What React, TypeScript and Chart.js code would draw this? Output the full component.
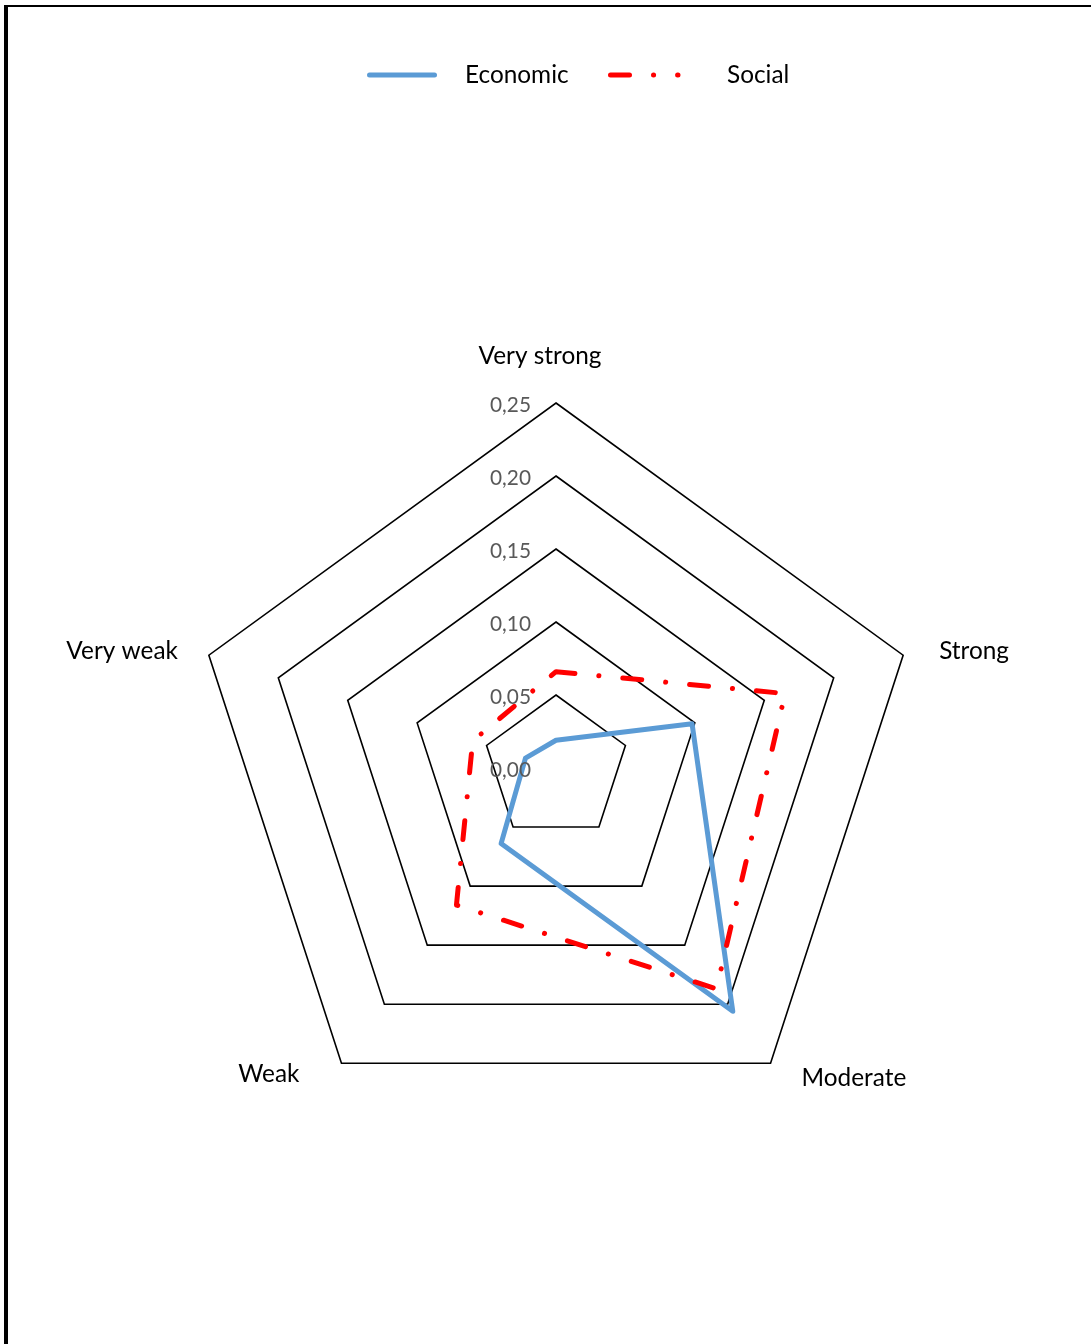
import { useEffect, useRef } from "react";
import { Chart, registerables } from "chart.js";

Chart.register(...registerables);

// ---- data ----
const categories = ["Very strong", "Strong", "Moderate", "Weak", "Very weak"];
const economicValues = [0.019, 0.098, 0.206, 0.064, 0.022];
const socialValues = [0.066, 0.165, 0.187, 0.116, 0.06];
const tickValues = [0, 0.05, 0.1, 0.15, 0.2, 0.25];
const seriesNames = ["Economic", "Social"];

const formatTick = (v: number) => v.toFixed(2).replace(".", ",");

const FONT_FAMILY = "Lato, 'Open Sans', sans-serif";
const BLUE = "#5B9BD5";
const RED = "#FF0000";
const RED_DASH = [19, 24, 0.1, 24];

// font size chosen so that a sample string reaches a target width
function fitSize(ctx: CanvasRenderingContext2D, sample: string, target: number) {
  ctx.font = `100px ${FONT_FAMILY}`;
  const w = ctx.measureText(sample).width;
  return (100 * target) / w;
}

const decorPlugin = {
  id: "decor",
  afterDraw(chart: any) {
    const ctx: CanvasRenderingContext2D = chart.ctx;
    const scale = chart.scales.r;
    ctx.save();

    // frame
    ctx.fillStyle = "#000";
    ctx.fillRect(4, 5, 4, chart.height - 5);
    ctx.fillRect(4, 5, chart.width - 4, 2);

    const labelSize = fitSize(ctx, "Very strong", 123);
    const tickSize = fitSize(ctx, "0,25", 41);

    // tick labels
    ctx.font = `${tickSize}px ${FONT_FAMILY}`;
    ctx.fillStyle = "#595959";
    ctx.textAlign = "right";
    ctx.textBaseline = "alphabetic";
    tickValues.forEach((v) => {
      const y = scale.yCenter - scale.getDistanceFromCenterForValue(v);
      ctx.fillText(formatTick(v), scale.xCenter - 25, y + 9);
    });

    // point labels
    ctx.font = `${labelSize}px ${FONT_FAMILY}`;
    ctx.fillStyle = "#000";
    const place: [CanvasTextAlign, number, number][] = [
      ["center", -16, -39],
      ["left", 36, 4],
      ["left", 31, 23],
      ["right", -42, 19],
      ["right", -31, 4],
    ];
    categories.forEach((c, i) => {
      const p = scale.getPointPosition(i, scale.drawingArea);
      const [align, dx, dy] = place[i];
      ctx.textAlign = align;
      ctx.fillText(c, p.x + dx, p.y + dy);
    });

    // legend
    const items = [
      { name: seriesNames[0], color: BLUE, dash: [] as number[], x0: 369.5, x1: 434.5, tx: 465 },
      { name: seriesNames[1], color: RED, dash: RED_DASH, x0: 610.5, x1: 678, tx: 727 },
    ];
    items.forEach((it) => {
      ctx.beginPath();
      ctx.setLineDash(it.dash);
      ctx.lineCap = "round";
      ctx.lineWidth = 5;
      ctx.strokeStyle = it.color;
      ctx.moveTo(it.x0, 75);
      ctx.lineTo(it.x1, 75);
      ctx.stroke();
      ctx.setLineDash([]);
      ctx.textAlign = "left";
      ctx.fillStyle = "#000";
      ctx.fillText(it.name, it.tx, 83);
    });

    ctx.restore();
  },
};

export default function App() {
  const ref = useRef<HTMLCanvasElement | null>(null);

  useEffect(() => {
    if (!ref.current) return;
    const chart = new Chart(ref.current, {
      type: "radar",
      data: {
        labels: categories,
        datasets: [
          {
            label: seriesNames[0],
            data: economicValues,
            borderColor: BLUE,
            backgroundColor: "transparent",
            borderWidth: 5,
            borderJoinStyle: "round",
            pointRadius: 0,
            pointHoverRadius: 0,
            fill: false,
            tension: 0,
            order: 1,
          },
          {
            label: seriesNames[1],
            data: socialValues,
            borderColor: RED,
            backgroundColor: "transparent",
            borderWidth: 5,
            borderDash: RED_DASH,
            borderCapStyle: "round",
            borderJoinStyle: "round",
            pointRadius: 0,
            pointHoverRadius: 0,
            fill: false,
            tension: 0,
            order: 0,
          },
        ],
      },
      options: {
        responsive: false,
        animation: false,
        devicePixelRatio: 1,
        layout: { padding: { left: 191, top: 403, right: 170, bottom: 211 } },
        plugins: {
          legend: { display: false },
          tooltip: { enabled: false },
        },
        scales: {
          r: {
            min: 0,
            max: 0.25,
            ticks: { stepSize: 0.05, display: false },
            grid: { color: "#000", lineWidth: 1.6 },
            angleLines: { display: false },
            pointLabels: { display: false },
          },
        },
      },
      plugins: [decorPlugin],
    });
    return () => chart.destroy();
  }, []);

  return (
    <div style={{ position: "absolute", left: 0, top: 0, width: 1091, height: 1344, background: "#fff" }}>
      <canvas ref={ref} width={1091} height={1344} />
    </div>
  );
}
